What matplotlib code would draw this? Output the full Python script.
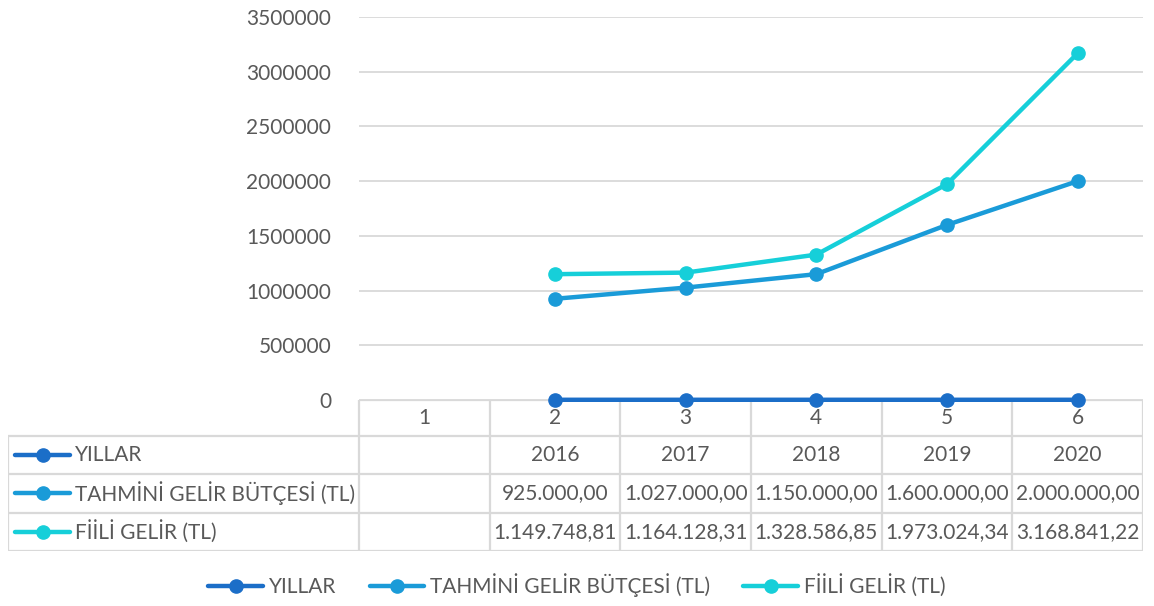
import numpy as np
import matplotlib
matplotlib.use('Agg')
import matplotlib.pyplot as plt
from matplotlib.lines import Line2D

plt.rcParams['font.family'] = ['Lato', 'DejaVu Sans']

categories = [1, 2, 3, 4, 5, 6]
series_names = ['YILLAR', 'TAHMİNİ GELİR BÜTÇESİ (TL)', 'FİİLİ GELİR (TL)']
yillar = [np.nan, 2016, 2017, 2018, 2019, 2020]
tahmini = [np.nan, 925000.00, 1027000.00, 1150000.00, 1600000.00, 2000000.00]
fiili = [np.nan, 1149748.81, 1164128.31, 1328586.85, 1973024.34, 3168841.22]
colors = ['#1b6ec8', '#1a9bd8', '#16cfd9']
grey = '#595959'
grid = '#d9d9d9'

W, H = 1154, 606
fig = plt.figure(figsize=(W / 100, H / 100), dpi=100)

# plot area in pixels
px_l, px_r, px_t, px_b = 359, 1143, 17, 400
ax = fig.add_axes([px_l / W, 1 - px_b / H, (px_r - px_l) / W, (px_b - px_t) / H])
ax.set_zorder(2)

data = [yillar, tahmini, fiili]
for vals, c, name in zip(data, colors, series_names):
    ax.plot(categories, vals, color=c, lw=3.2, marker='o', ms=9.5, label=name,
            solid_capstyle='round', zorder=3, clip_on=False)

ax.set_xlim(0.5, 6.5)
ax.set_ylim(0, 3500000)
ax.set_yticks(np.arange(0, 3500001, 500000))
ax.yaxis.set_major_formatter(matplotlib.ticker.FuncFormatter(lambda v, p: f'{int(v)}'))
ax.tick_params(axis='y', length=0, pad=20, labelsize=15, labelcolor=grey)
ax.set_xticks([])
ax.grid(axis='y', color=grid, lw=1.3)
ax.set_axisbelow(True)
ax.patch.set_alpha(0)
for s in ax.spines.values():
    s.set_visible(False)

# data table below the plot
unit = (px_r - px_l) / 6.0
tb_l = 8
x0 = 0.5 - (px_l - tb_l) / unit
tb_t, tb_b = 400, 551
tax = fig.add_axes([tb_l / W, 1 - tb_b / H, (px_r - tb_l) / W, (tb_b - tb_t) / H])
tax.set_zorder(1)
tax.set_xlim(x0, 6.5)
row_h = [36, 38.5, 38.5, 38.5]
edges = np.concatenate([[0], np.cumsum(row_h)])
tax.set_ylim(edges[-1], 0)
tax.axis('off')

lkw = dict(color=grid, lw=1.6, solid_capstyle='butt')
# horizontal lines
tax.plot([0.5, 6.5], [0, 0], **lkw)
for e in edges[1:]:
    tax.plot([x0, 6.5], [e, e], **lkw)
# vertical lines
tax.plot([x0, x0], [edges[1], edges[-1]], **lkw)
for k in range(7):
    tax.plot([0.5 + k, 0.5 + k], [0, edges[-1]], **lkw)

def tr_fmt(v):
    s = f'{v:,.2f}'
    return s.replace(',', 'X').replace('.', ',').replace('X', '.')

for c in categories:
    tax.text(c, (edges[0] + edges[1]) / 2, str(c), ha='center', va='center',
             fontsize=15, color=grey)

key_x = x0 + np.array([7, 62]) / unit
for i, (vals, c, name) in enumerate(zip(data, colors, series_names)):
    yc = (edges[i + 1] + edges[i + 2]) / 2
    tax.plot(key_x, [yc, yc], color=c, lw=3.2, solid_capstyle='round')
    tax.plot([key_x.mean()], [yc], color=c, marker='o', ms=9.5)
    tax.text(x0 + 67 / unit, yc, name, ha='left', va='center', fontsize=15, color=grey)
    for cat, v in zip(categories, vals):
        if np.isnan(v):
            continue
        txt = str(int(v)) if i == 0 else tr_fmt(v)
        tax.text(cat, yc, txt, ha='center', va='center', fontsize=15, color=grey)

handles = [Line2D([0], [0], color=c, lw=3.2, marker='o', ms=9.5, solid_capstyle='round')
           for c in colors]
fig.legend(handles, series_names, loc='center', bbox_to_anchor=(0.5, 1 - 585 / H),
           ncol=3, frameon=False, fontsize=15, labelcolor=grey, handlelength=2.6,
           handletextpad=0.3, columnspacing=1.6)

fig.savefig('out.png', dpi=100)
